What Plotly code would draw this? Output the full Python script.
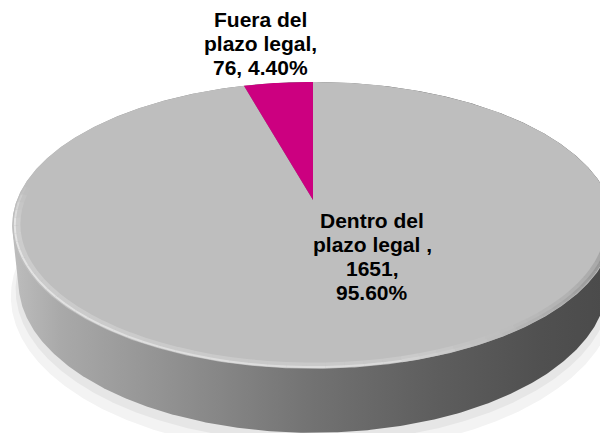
import numpy as np
import plotly.graph_objects as go

# ---------------- data ----------------
categories = ["Dentro del plazo legal ", "Fuera del plazo legal"]
values = [1651, 76]
slice_colors = ["#BEBEBE", "#CC0080"]
# label line layout (category broken in two lines; value/percent separator)
label_name_lines = [["Dentro del", "plazo legal ,"], ["Fuera del", "plazo legal,"]]
label_value_sep = ["\n", " "]

# ---------------- geometry (layout) ----------------
W, H = 608, 433
PAD = 8                    # browser body margin, compensated below
CX, CY = 313, 200          # projected centre of the pie
F, D = 1480.0, 5.0         # focal length / camera distance (perspective)
ALPHA = np.radians(28)     # tilt of the pie
T = 0.22                   # thickness of the pie
S, C = np.sin(ALPHA), np.cos(ALPHA)


def project(X, Z, Y=0.0):
    up = Y * C + Z * S
    depth = D + Z * C - Y * S
    return CX + F * X / depth, CY - F * up / depth


def hull(px, py):
    pts = sorted(set(zip(np.round(px, 3), np.round(py, 3))))

    def cross(o, a, b):
        return (a[0] - o[0]) * (b[1] - o[1]) - (a[1] - o[1]) * (b[0] - o[0])

    lower, upper = [], []
    for p in pts:
        while len(lower) >= 2 and cross(lower[-2], lower[-1], p) <= 0:
            lower.pop()
        lower.append(p)
    for p in reversed(pts):
        while len(upper) >= 2 and cross(upper[-2], upper[-1], p) <= 0:
            upper.pop()
        upper.append(p)
    h = lower[:-1] + upper[:-1]
    h.append(h[0])
    return [p[0] for p in h], [p[1] for p in h]


fig = go.Figure()
t = np.linspace(0, 2 * np.pi, 721)

# soft shadow under the pie
for scale, extra, col in [(1.03, 0.05, "#F3F3F3"), (1.012, 0.025, "#E6E6E6")]:
    sx, sy = project(scale * np.cos(t), scale * np.sin(t), -T - extra)
    fig.add_trace(go.Scatter(x=sx, y=sy, mode="lines", fill="toself",
                             fillcolor=col, line=dict(width=0),
                             hoverinfo="skip", showlegend=False))

# side of the cylinder (convex hull of top and bottom faces)
tx, ty = project(np.cos(t), np.sin(t), 0.0)
bx, by = project(np.cos(t), np.sin(t), -T)
hx, hy = hull(np.concatenate([tx, bx]), np.concatenate([ty, by]))
fig.add_trace(go.Scatter(
    x=hx, y=hy, mode="lines", fill="toself", line=dict(width=0),
    fillgradient=dict(type="horizontal", colorscale=[
        [0.0, "#BDBDBD"], [0.08, "#A9A9A9"], [0.3, "#8C8C8C"],
        [0.5, "#727272"], [0.7, "#5E5E5E"], [0.88, "#505050"], [1.0, "#4A4A4A"]]),
    hoverinfo="skip", showlegend=False))

# top face slices, clockwise from 12 o'clock
total = sum(values)
cum = np.concatenate([[0], np.cumsum(values)]) / total
for i, v in enumerate(values):
    a0 = np.pi / 2 - 2 * np.pi * cum[i]
    a1 = np.pi / 2 - 2 * np.pi * cum[i + 1]
    aa = np.linspace(a0, a1, max(int(abs(a1 - a0) / (2 * np.pi) * 720), 8))
    X = np.concatenate([[0], np.cos(aa), [0]])
    Z = np.concatenate([[0], np.sin(aa), [0]])
    px, py = project(X, Z, 0.0)
    fig.add_trace(go.Scatter(x=px, y=py, mode="lines", fill="toself",
                             fillcolor=slice_colors[i],
                             line=dict(width=0, color=slice_colors[i]),
                             hoverinfo="skip", showlegend=False))

# bevel on the rim of the top face (decoration)
a_start, a_end = np.pi * 0.97, np.pi * 2.0
segs = np.linspace(a_start, a_end, 60)
for k in range(len(segs) - 1):
    aa = np.linspace(segs[k], segs[k + 1], 6)
    m = (segs[k] + segs[k + 1]) / 2
    u = (m - a_start) / (a_end - a_start)
    fade = min(1.0, (m - a_start) / (0.08 * np.pi))
    if u < 0.6:
        g = int(236 - 25 * u)
        layers = [(0.982, 5, 0.35 * fade, g), (0.992, 2, 0.9 * fade, g)]
    else:
        d = (u - 0.6) / 0.4
        g = int(215 - d * 100)
        layers = [(0.982, 5, 0.5, g), (0.992, 3, 0.8, int(g - 10 * d))]
    for r, w, op, gg in layers:
        px, py = project(r * np.cos(aa), r * np.sin(aa), 0.0)
        fig.add_trace(go.Scatter(x=px, y=py, mode="lines",
                                 line=dict(width=w, color=f"rgb({gg},{gg},{gg})"),
                                 opacity=op, hoverinfo="skip", showlegend=False))

# data labels
label_pos = [(372, 227), (260, 26)]   # centre x, first baseline
line_gap = 24
FS = 21
for i, v in enumerate(values):
    pct = f"{v / total * 100:.2f}%"
    tail = f"{v},{label_value_sep[i]}{pct}".split("\n")
    lines = label_name_lines[i] + tail
    x0, b0 = label_pos[i]
    for j, ln in enumerate(lines):
        fig.add_annotation(x=x0, y=b0 + j * line_gap - 7, text=f"<b>{ln}</b>",
                           showarrow=False, xanchor="center", yanchor="middle",
                           font=dict(family="Liberation Sans, Arial", size=FS,
                                     color="#000000"))

fig.update_layout(
    width=W - PAD, height=H - PAD, margin=dict(l=0, r=0, t=0, b=0),
    paper_bgcolor="white", plot_bgcolor="white", showlegend=False,
    xaxis=dict(range=[PAD, W], visible=False, fixedrange=True),
    yaxis=dict(range=[H, PAD], visible=False, fixedrange=True),
)
fig.write_html("out.html")
